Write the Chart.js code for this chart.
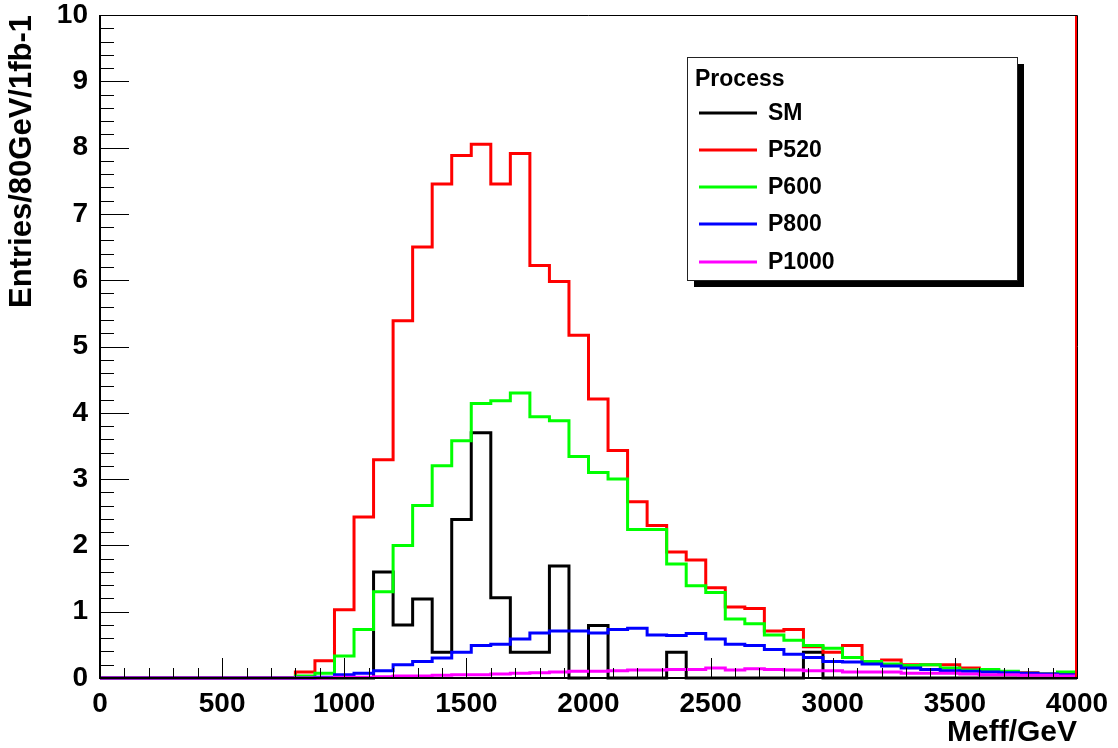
<!DOCTYPE html>
<html>
<head>
<meta charset="utf-8">
<script src="https://cdn.jsdelivr.net/npm/chart.js@4.4.1/dist/chart.umd.min.js"></script>
<style>
    html, body { margin: 0; padding: 0; background: #fff; }
    #chart { display: block; }
</style>
</head>
<body>
<canvas id="chart" width="1118" height="748"></canvas>
<script>
// bin lower edges (80 GeV bins), last entry is the upper edge of the last bin
const binEdges = [0, 80, 160, 240, 320, 400, 480, 560, 640, 720,
    800, 880, 960, 1040, 1120, 1200, 1280, 1360, 1440, 1520,
    1600, 1680, 1760, 1840, 1920, 2000, 2080, 2160, 2240, 2320,
    2400, 2480, 2560, 2640, 2720, 2800, 2880, 2960, 3040, 3120,
    3200, 3280, 3360, 3440, 3520, 3600, 3680, 3760, 3840, 3920, 4000];

const smEntries = [0, 0, 0, 0, 0, 0, 0, 0, 0, 0,
    0, 0, 0, 0, 1.6, 0.8, 1.19, 0.39, 2.39, 3.7,
    1.21, 0.39, 0.39, 1.69, 0, 0.79, 0, 0, 0, 0.39,
    0, 0, 0, 0, 0, 0, 0.39, 0, 0, 0,
    0, 0, 0, 0, 0, 0, 0, 0, 0, 0];
const p520Entries = [0, 0, 0, 0, 0, 0, 0, 0, 0, 0,
    0.09, 0.26, 1.03, 2.43, 3.29, 5.39, 6.5, 7.45, 7.88, 8.05,
    7.45, 7.91, 6.22, 5.98, 5.17, 4.21, 3.43, 2.66, 2.3, 1.9,
    1.78, 1.36, 1.07, 1.05, 0.71, 0.73, 0.47, 0.39, 0.49, 0.25,
    0.27, 0.2, 0.2, 0.2, 0.15, 0.1, 0.09, 0.08, 0.06, 0.05];
const p600Entries = [0, 0, 0, 0, 0, 0, 0, 0, 0, 0,
    0.03, 0.07, 0.33, 0.73, 1.3, 2.0, 2.6, 3.2, 3.58, 4.14,
    4.18, 4.3, 3.94, 3.88, 3.34, 3.1, 3.0, 2.24, 2.24, 1.72,
    1.39, 1.29, 0.89, 0.82, 0.65, 0.57, 0.49, 0.45, 0.31, 0.25,
    0.21, 0.19, 0.2, 0.15, 0.12, 0.13, 0.1, 0.07, 0.06, 0.09];
const p800Entries = [0, 0, 0, 0, 0, 0, 0, 0, 0, 0,
    0, 0.01, 0.05, 0.07, 0.11, 0.2, 0.25, 0.3, 0.39, 0.49,
    0.51, 0.59, 0.68, 0.71, 0.71, 0.68, 0.73, 0.75, 0.65, 0.64,
    0.67, 0.59, 0.51, 0.49, 0.43, 0.36, 0.31, 0.25, 0.24, 0.21,
    0.18, 0.15, 0.13, 0.11, 0.1, 0.09, 0.08, 0.07, 0.06, 0.05];
const p1000Entries = [0, 0, 0, 0, 0, 0, 0, 0, 0, 0,
    0, 0, 0.01, 0.01, 0.02, 0.03, 0.03, 0.04, 0.05, 0.05,
    0.06, 0.07, 0.08, 0.09, 0.1, 0.1, 0.11, 0.12, 0.12, 0.13,
    0.13, 0.15, 0.12, 0.14, 0.13, 0.12, 0.11, 0.11, 0.09, 0.09,
    0.09, 0.07, 0.07, 0.07, 0.06, 0.05, 0.05, 0.04, 0.04, 0.03];

const processNames = ['SM', 'P520', 'P600', 'P800', 'P1000'];
const processColors = ['#000000', '#ff0000', '#00ff00', '#0000ff', '#ff00ff'];
const xTicks = [0, 500, 1000, 1500, 2000, 2500, 3000, 3500, 4000];
const yTicks = [0, 1, 2, 3, 4, 5, 6, 7, 8, 9, 10];

const FONT = "'Liberation Sans', Arial, Helvetica, sans-serif";

// turn bin contents into step outline points (lo,v) (hi,v)
function histPoints(values) {
    const pts = [];
    values.forEach((v, i) => {
        pts.push({ x: binEdges[i], y: v });
        pts.push({ x: binEdges[i + 1], y: v });
    });
    return pts;
}

const allSeries = [smEntries, p520Entries, p600Entries, p800Entries, p1000Entries];
// SM underneath, then P520 .. P1000 on top
const drawOrder = [5, 4, 3, 2, 1];

const datasets = allSeries.map((vals, i) => ({
    label: processNames[i],
    data: histPoints(vals),
    borderColor: processColors[i],
    backgroundColor: processColors[i],
    borderWidth: 3,
    pointRadius: 0,
    tension: 0,
    fill: false,
    order: drawOrder[i],
    borderJoinStyle: 'miter',
    clip: 4
}));

// frame, inward ticks (ROOT style)
const framePlugin = {
    id: 'frame',
    afterDatasetsDraw(chart) {
        const { ctx, chartArea: a, scales } = chart;
        const xs = scales.x, ys = scales.y;
        ctx.save();
        ctx.strokeStyle = '#000';
        ctx.lineWidth = 1;
        // top + right frame
        ctx.beginPath();
        ctx.moveTo(a.left, a.top + 0.5);
        ctx.lineTo(a.right + 0.5, a.top + 0.5);
        ctx.lineTo(a.right + 0.5, a.bottom);
        ctx.stroke();
        ctx.strokeStyle = '#ff0000';
        ctx.lineWidth = 2;
        ctx.beginPath();
        ctx.moveTo(a.right - 1, a.top + 1);
        ctx.lineTo(a.right - 1, a.bottom);
        ctx.stroke();

        // x ticks
        ctx.strokeStyle = '#000';
        ctx.lineWidth = 1;
        ctx.beginPath();
        for (let v = 0; v <= 4000; v += 100) {
            const px = Math.round(xs.getPixelForValue(v)) + 0.5;
            const len = (v % 500 === 0) ? 20 : 10;
            ctx.moveTo(px, a.bottom);
            ctx.lineTo(px, a.bottom - len);
        }
        // y ticks
        for (let i = 0; i <= 50; i++) {
            const v = i * 0.2;
            const py = Math.round(ys.getPixelForValue(v)) + 0.5;
            const len = (i % 5 === 0) ? 29 : 14;
            ctx.moveTo(a.left, py);
            ctx.lineTo(a.left + len, py);
        }
        ctx.stroke();

        // axis lines
        ctx.lineWidth = 2;
        ctx.beginPath();
        ctx.moveTo(a.left, a.top);
        ctx.lineTo(a.left, a.bottom);
        ctx.lineTo(a.right + 1, a.bottom);
        ctx.stroke();
        ctx.restore();
    }
};

// legend box with drop shadow
const legendPlugin = {
    id: 'rootLegend',
    afterDraw(chart) {
        const { ctx } = chart;
        const bx = 687, by = 57, bw = 330, bh = 223, sh = 7;
        ctx.save();
        ctx.fillStyle = '#000';
        ctx.fillRect(bx + sh, by + sh, bw, bh);
        ctx.fillStyle = '#fff';
        ctx.fillRect(bx, by, bw, bh);
        ctx.strokeStyle = '#222';
        ctx.lineWidth = 1;
        ctx.strokeRect(bx + 0.5, by + 0.5, bw, bh);

        ctx.fillStyle = '#000';
        ctx.font = 'bold 23px ' + FONT;
        ctx.textBaseline = 'alphabetic';
        ctx.textAlign = 'left';
        ctx.fillText('Process', 695, 86);

        const rowY = [113, 150, 187, 224, 262];
        chart.data.datasets.forEach((ds, i) => {
            const y = rowY[i];
            ctx.strokeStyle = ds.borderColor;
            ctx.lineWidth = 3;
            ctx.beginPath();
            ctx.moveTo(699, y);
            ctx.lineTo(757, y);
            ctx.stroke();
            ctx.fillStyle = '#000';
            ctx.textBaseline = 'middle';
            ctx.fillText(ds.label, 768, y + 1);
        });
        ctx.restore();
    }
};

new Chart(document.getElementById('chart'), {
    type: 'line',
    data: { datasets: datasets },
    options: {
        responsive: false,
        animation: false,
        events: [],
        layout: { padding: { top: 15, right: 41, left: 0, bottom: 0 } },
        plugins: {
            legend: { display: false },
            tooltip: { enabled: false },
            title: { display: false }
        },
        scales: {
            x: {
                type: 'linear',
                min: 0,
                max: 4000,
                afterBuildTicks: (scale) => { scale.ticks = xTicks.map(v => ({ value: v })); },
                afterFit: (scale) => {
                    scale.height = 70;
                    scale.paddingLeft = 0;
                    scale.paddingRight = 0;
                },
                grid: { display: false, drawTicks: false },
                border: { display: false },
                ticks: {
                    color: '#000',
                    padding: 9,
                    maxRotation: 0,
                    autoSkip: false,
                    callback: (v) => String(v),
                    font: { family: FONT, size: 28, weight: 'bold' }
                },
                title: {
                    display: true,
                    text: 'Meff/GeV',
                    align: 'end',
                    color: '#000',
                    padding: { top: 0, bottom: 0 },
                    font: { family: FONT, size: 30, weight: 'bold', lineHeight: 1.0 }
                }
            },
            y: {
                type: 'linear',
                min: 0,
                max: 10,
                afterBuildTicks: (scale) => { scale.ticks = yTicks.map(v => ({ value: v })); },
                afterFit: (scale) => {
                    scale.width = 100;
                    scale.paddingTop = 0;
                    scale.paddingBottom = 0;
                },
                grid: { display: false, drawTicks: false },
                border: { display: false },
                ticks: {
                    color: '#000',
                    padding: 12,
                    autoSkip: false,
                    callback: (v) => String(v),
                    font: { family: FONT, size: 28, weight: 'bold' }
                },
                title: {
                    display: true,
                    text: 'Entries/80GeV/1fb-1',
                    align: 'end',
                    color: '#000',
                    padding: { top: 4, bottom: 0 },
                    font: { family: FONT, size: 31, weight: 'bold', lineHeight: 1.2 }
                }
            }
        }
    },
    plugins: [framePlugin, legendPlugin]
});
</script>
</body>
</html>
